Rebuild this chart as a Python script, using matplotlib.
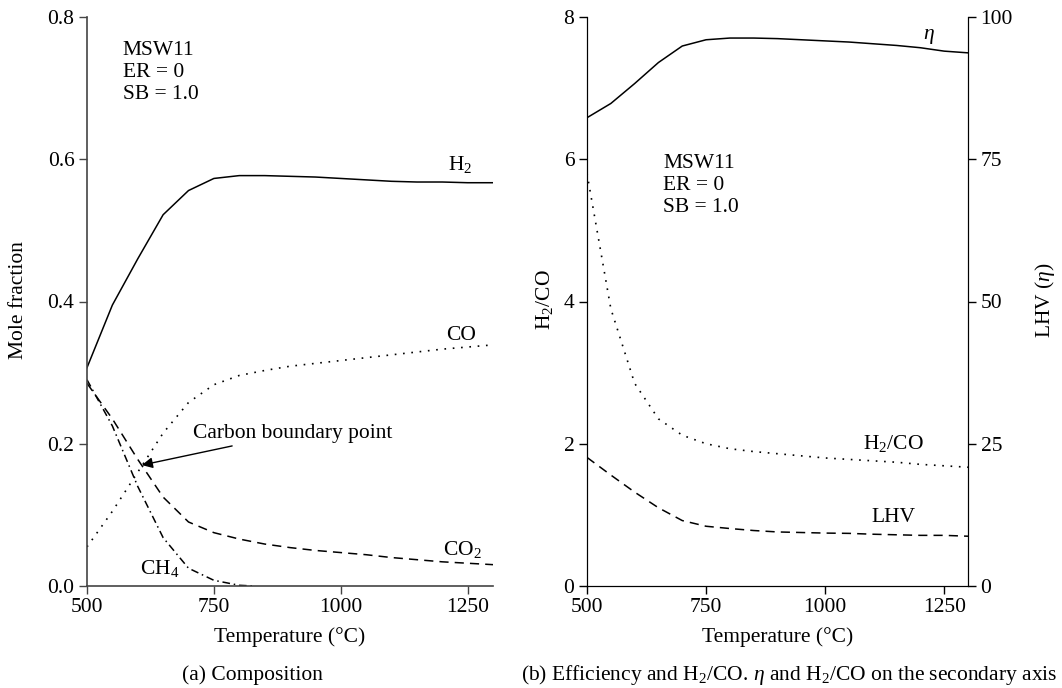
import matplotlib
matplotlib.use('Agg')
import matplotlib.pyplot as plt

plt.rcParams['font.family'] = ['Liberation Serif', 'DejaVu Serif']
plt.rcParams['mathtext.fontset'] = 'custom'
plt.rcParams['mathtext.rm'] = 'Liberation Serif'
plt.rcParams['mathtext.it'] = 'Liberation Serif:italic'
FS = 15.5
plt.rcParams['font.size'] = FS

# temperature (°C)
temps = [500, 550, 600, 650, 700, 750, 800, 850, 900, 950, 1000,
         1050, 1100, 1150, 1200, 1250, 1300]

# (a) composition, mole fraction
h2 = [0.307, 0.395, 0.460, 0.522, 0.556, 0.573, 0.577, 0.577, 0.576, 0.575,
      0.573, 0.571, 0.569, 0.568, 0.568, 0.567, 0.567]
co = [0.055, 0.105, 0.160, 0.215, 0.258, 0.283, 0.296, 0.303, 0.309, 0.313,
      0.317, 0.321, 0.325, 0.329, 0.333, 0.336, 0.339]
co2 = [0.285, 0.235, 0.178, 0.125, 0.090, 0.075, 0.066, 0.059, 0.054, 0.050,
       0.047, 0.044, 0.040, 0.037, 0.034, 0.032, 0.030]
temps_ch4 = [500, 550, 600, 650, 700, 750, 800, 830]
ch4 = [0.290, 0.225, 0.140, 0.068, 0.025, 0.008, 0.001, 0.0]

# (b) efficiency (%), LHV and H2/CO
eta = [82.3, 84.8, 88.3, 92.0, 94.9, 96.0, 96.3, 96.3, 96.2, 96.0,
       95.8, 95.6, 95.3, 95.0, 94.6, 94.0, 93.7]
lhv = [22.6, 19.5, 16.5, 13.75, 11.5, 10.5, 10.1, 9.75, 9.5, 9.4,
       9.3, 9.25, 9.1, 9.0, 8.9, 8.9, 8.75]
h2co = [5.8, 3.9, 2.85, 2.35, 2.12, 2.0, 1.93, 1.89, 1.86, 1.83,
        1.80, 1.78, 1.76, 1.74, 1.71, 1.69, 1.67]

W, H = 1062, 688
fig = plt.figure(figsize=(W / 100, H / 100), dpi=100)

dotted = (0, (1, 4))
dashed = (0, (6, 4))
dashdot = (0, (5, 2.5, 1, 2.5))

# ---------------- (a) ----------------
ax = fig.add_axes([87 / W, 102 / H, 406 / W, 569 / H])
ax.plot(temps, h2, color='k', lw=1.1)
ax.plot(temps, co, color='k', lw=1.2, linestyle=dotted)
ax.plot(temps, co2, color='k', lw=1.1, linestyle=dashed)
ax.plot(temps_ch4, ch4, color='k', lw=1.1, linestyle=dashdot)
ax.set_xlim(500, 1300)
ax.set_ylim(0, 0.8)
ax.set_xticks([500, 750, 1000, 1250])
ax.set_yticks([0.0, 0.2, 0.4, 0.6, 0.8])
ax.set_yticklabels(['0.0', '0.2', '0.4', '0.6', '0.8'])
for s in ['top', 'right']:
    ax.spines[s].set_visible(False)
for s in ['left', 'bottom']:
    ax.spines[s].set_color('#444444')
    ax.spines[s].set_linewidth(1.2)
ax.tick_params(direction='out', length=6, width=1, color='#444444', labelsize=FS, pad=3)
ax.set_xlabel('Temperature (°C)', fontsize=FS)
ax.set_ylabel('Mole fraction', fontsize=FS)
ax.xaxis.set_label_coords(0.5, -0.072)
ax.yaxis.set_label_coords(-0.145, 0.503)

ax.text(570, 0.722, 'MSW11\nER = 0\nSB = 1.0', fontsize=FS, va='center',
        linespacing=1.2)
ax.text(1235, 0.592, 'H$_2$', ha='center', va='center', fontsize=FS)
ax.text(1237, 0.352, 'CO', ha='center', va='center', fontsize=FS)
ax.text(1240, 0.052, 'CO$_2$', ha='center', va='center', fontsize=FS)
ax.text(644, 0.025, 'CH$_4$', ha='center', va='center', fontsize=FS)
ax.annotate('Carbon boundary point', xy=(608, 0.170), xytext=(709, 0.215),
            va='center', ha='left', fontsize=FS,
            arrowprops=dict(arrowstyle='-|>', color='k', lw=1,
                            mutation_scale=16, shrinkA=2, shrinkB=0))

# ---------------- (b) ----------------
bx = fig.add_axes([587 / W, 102 / H, 381 / W, 569 / H])
bx.plot(temps, h2co, color='k', lw=1.2, linestyle=dotted)
bx.set_xlim(500, 1300)
bx.set_ylim(0, 8)
bx.set_xticks([500, 750, 1000, 1250])
bx.set_yticks([0, 2, 4, 6, 8])
bx.spines['top'].set_visible(False)
bx.tick_params(direction='out', length=6, width=1, labelsize=FS, pad=3)
bx.set_xlabel('Temperature (°C)', fontsize=FS)
bx.set_ylabel('H$_2$/CO', fontsize=FS)
bx.xaxis.set_label_coords(0.5, -0.072)
bx.yaxis.set_label_coords(-0.085, 0.503)

bx2 = bx.twinx()
bx2.plot(temps, eta, color='k', lw=1.1)
bx2.plot(temps, lhv, color='k', lw=1.1, linestyle=dashed)
bx2.set_ylim(0, 100)
bx2.set_yticks([0, 25, 50, 75, 100])
bx2.spines['top'].set_visible(False)
bx2.tick_params(direction='out', length=6, width=1, labelsize=FS, pad=3)
bx2.set_ylabel('LHV ($\\eta$)', fontsize=FS)
bx2.yaxis.set_label_coords(1.17, 0.503)

bx.text(660, 5.63, 'MSW11\nER = 0\nSB = 1.0', fontsize=FS, va='center',
        linespacing=1.2)
bx2.text(1218, 96.6, '$\\eta$', ha='center', va='center', fontsize=FS)
bx.text(1143, 2.01, 'H$_2$/CO', ha='center', va='center', fontsize=FS)
bx.text(1143, 0.97, 'LHV', ha='center', va='center', fontsize=FS)

fig.text(252 / W, 1 - 675 / H, '(a) Composition', ha='center', va='center',
         fontsize=FS)
fig.text(1057 / W, 1 - 675 / H,
         '(b) Efficiency and H$_2$/CO. $\\eta$ and H$_2$/CO on the secondary axis',
         ha='right', va='center', fontsize=FS)

fig.savefig('out.png', dpi=100)
